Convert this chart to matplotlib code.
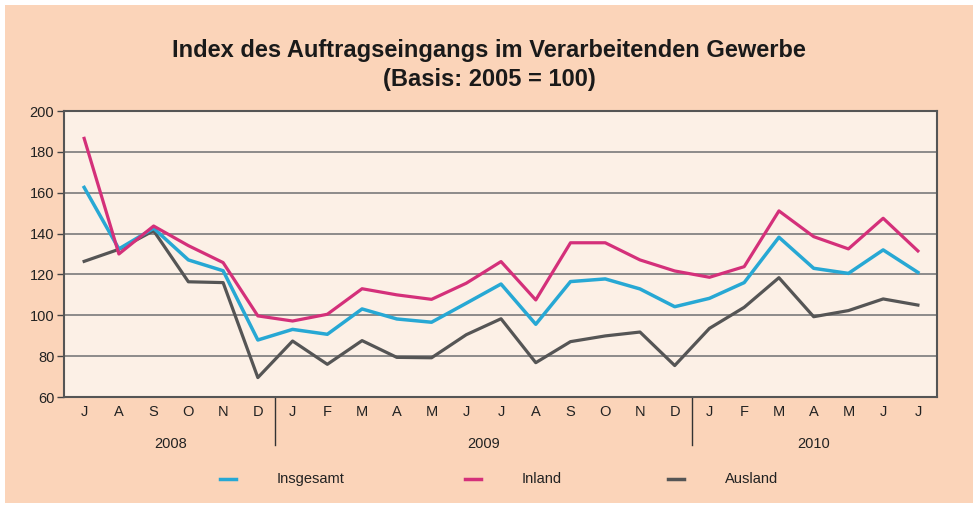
import matplotlib.pyplot as plt
import matplotlib.patches as mpatches
import numpy as np

months = ["J", "A", "S", "O", "N", "D",
          "J", "F", "M", "A", "M", "J", "J", "A", "S", "O", "N", "D",
          "J", "F", "M", "A", "M", "J", "J"]
years = ["2008", "2009", "2010"]

insgesamt = [162.6, 132.5, 142.6, 127.1, 121.8, 87.9,
             93.1, 90.7, 103.1, 98.2, 96.6, 105.9, 115.3, 95.6, 116.5, 117.8, 112.9, 104.2,
             108.3, 116.0, 138.2, 123.0, 120.5, 132.0, 121.0]
inland = [186.6, 130.0, 143.7, 134.1, 125.8, 99.7,
          97.2, 100.5, 113.0, 110.0, 107.8, 115.7, 126.3, 107.5, 135.5, 135.5, 127.1, 121.7,
          118.6, 123.8, 151.1, 138.5, 132.5, 147.5, 131.5]
ausland = [126.4, 132.3, 141.4, 116.4, 116.0, 69.5,
           87.4, 76.0, 87.6, 79.4, 79.2, 90.5, 98.3, 76.8, 87.1, 89.9, 91.8, 75.4,
           93.6, 103.9, 118.4, 99.3, 102.3, 108.0, 105.0]

peach = "#fbd4b9"
cream = "#fcf0e6"
c_ins = "#27a8d4"
c_inl = "#d4307a"
c_aus = "#555555"

plt.rcParams["font.family"] = ["Liberation Sans", "DejaVu Sans"]

fig = plt.figure(figsize=(9.73, 5.11), dpi=100)
fig.patch.set_facecolor("white")
fig.patches.append(mpatches.Rectangle((5 / 973, 8 / 511), 1 - 5 / 973, 1 - 13 / 511,
                                      transform=fig.transFigure, facecolor=peach,
                                      edgecolor="none", zorder=-10))

ax = fig.add_axes([64 / 973, 1 - 397 / 511, (937 - 64) / 973, (397 - 111) / 511])
ax.set_facecolor(cream)

xs = np.arange(len(months))
ax.plot(xs, ausland, color=c_aus, lw=2.3, label="Ausland", zorder=3)
ax.plot(xs, insgesamt, color=c_ins, lw=2.5, label="Insgesamt", zorder=4)
ax.plot(xs, inland, color=c_inl, lw=2.3, label="Inland", zorder=5)

ax.set_xlim(-0.58, 24.55)
ax.set_ylim(60, 200)
ax.set_yticks(np.arange(60, 201, 20))
ax.yaxis.grid(True, color="#7a7a7a", lw=1.2)
ax.set_axisbelow(True)
ax.tick_params(axis="y", length=5, width=1, color="#444444", labelsize=10.5,
               labelcolor="#222222", pad=2)
ax.set_xticks(xs)
ax.set_xticklabels(months)
ax.tick_params(axis="x", length=0, labelsize=10.5, labelcolor="#222222", pad=6)
for s in ax.spines.values():
    s.set_color("#555555")
    s.set_linewidth(1.5)

# year separators and labels
for sep in [5.5, 17.5]:
    ax.plot([sep, sep], [60, 60 - 48 / 2.043], color="#333333", lw=1,
            clip_on=False)
year_pos = [2.5, 11.5, 21.0]
for yp, yl in zip(year_pos, years):
    ax.text(yp, 60 - 47 / 2.043, yl, ha="center", va="center", fontsize=10.5,
            color="#222222")

fig.text(0.503, 1 - 50 / 511, "Index des Auftragseingangs im Verarbeitenden Gewerbe",
         ha="center", va="center", fontsize=17, fontweight="bold", color="#1a1a1a")
fig.text(0.503, 1 - 79 / 511, "(Basis: 2005 = 100)",
         ha="center", va="center", fontsize=17, fontweight="bold", color="#1a1a1a")

# legend
leg_items = [(220, "Insgesamt", c_ins), (465, "Inland", c_inl), (668, "Ausland", c_aus)]
ly = 1 - 479 / 511
for lx, name, col in leg_items:
    fig.lines.append(plt.Line2D([lx / 973, (lx + 16) / 973], [ly, ly], color=col, lw=2.5,
                                transform=fig.transFigure))
    fig.text((lx + 57) / 973, ly, name, ha="left", va="center", fontsize=10.5,
             color="#222222")

fig.savefig("out.png", dpi=100, facecolor=fig.get_facecolor())
